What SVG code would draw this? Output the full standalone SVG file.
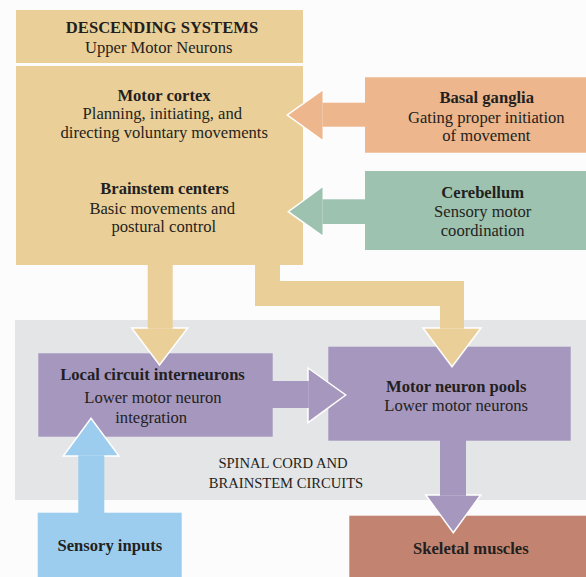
<svg xmlns="http://www.w3.org/2000/svg" width="586" height="577" viewBox="0 0 586 577">
<style>
text{font-family:"Liberation Serif","Times New Roman",serif;fill:#231f20;font-size:16.6px;text-anchor:middle}
.b{font-weight:bold}
.s{font-size:14.6px}
.tan{fill:#ebcf99}
.pur{fill:#a697bf}
.head{stroke:#ffffff;stroke-width:1.5;stroke-linejoin:miter}
</style>
<rect width="586" height="577" fill="#fcfcfc"/>
<rect id="band" x="15" y="320" width="571" height="180" fill="#e4e5e7"/>
<text class="s" x="283" y="468">SPINAL CORD AND</text>
<text class="s" x="286" y="487.5">BRAINSTEM CIRCUITS</text>

<g id="descending">
<rect class="tan" x="16" y="10" width="287" height="53"/>
<text class="b" x="162" y="33.3">DESCENDING SYSTEMS</text>
<text x="158.7" y="52.7">Upper Motor Neurons</text>
</g>
<g id="upper">
<rect class="tan" x="16" y="66" width="287" height="199"/>
<text class="b" x="164" y="100.7">Motor cortex</text>
<text x="162.3" y="119.3">Planning, initiating, and</text>
<text x="164.2" y="137.7">directing voluntary movements</text>
<text class="b" x="164.5" y="194.3">Brainstem centers</text>
<text x="162.2" y="214.3">Basic movements and</text>
<text x="163.8" y="232.3">postural control</text>
</g>
<g id="basal">
<rect x="365" y="77.3" width="221" height="75.4" fill="#edb68d"/>
<text class="b" x="486.7" y="103.3">Basal ganglia</text>
<text x="486.3" y="122.7">Gating proper initiation</text>
<text x="486.3" y="140.7">of movement</text>
</g>
<g id="cerebellum">
<rect x="365" y="171" width="221" height="79" fill="#9dc3b0"/>
<text class="b" x="482.7" y="197.7">Cerebellum</text>
<text x="482.7" y="216.7">Sensory motor</text>
<text x="482.7" y="235.7">coordination</text>
</g>
<g id="local">
<rect class="pur" x="38.3" y="353.3" width="234.4" height="83.4"/>
<text class="b" x="152.5" y="380">Local circuit interneurons</text>
<text x="153" y="403.3">Lower motor neuron</text>
<text x="151.2" y="422.5">integration</text>
</g>
<g id="pools">
<rect class="pur" x="328.3" y="346.7" width="242.4" height="94"/>
<text class="b" x="456.2" y="391.7">Motor neuron pools</text>
<text x="456.2" y="411">Lower motor neurons</text>
</g>
<g id="sensory">
<rect x="37.7" y="512.7" width="144" height="64.3" fill="#9ccdee"/>
<text class="b" x="109.8" y="550.7">Sensory inputs</text>
</g>
<g id="skeletal">
<rect x="349.3" y="515.7" width="236.7" height="61.3" fill="#c28470"/>
<text class="b" x="470.8" y="554">Skeletal muscles</text>
</g>

<g id="connectors">
<!-- basal ganglia -> motor cortex -->
<polygon class="head" points="323.3,89.3 287.3,115 323.3,141" fill="#edb68d"/>
<rect x="322.5" y="102.7" width="42.5" height="24" fill="#edb68d"/>
<!-- cerebellum -> brainstem -->
<polygon class="head" points="323.3,186 288.3,211.7 323.3,236.7" fill="#9dc3b0"/>
<rect x="322.5" y="199.3" width="42.5" height="24.7" fill="#9dc3b0"/>
<!-- upper -> local -->
<polygon class="head tan" points="131.7,328 187.7,328 159.5,365"/>
<rect class="tan" x="147.7" y="265" width="25" height="63.8"/>
<!-- upper -> pools -->
<polygon class="head tan" points="423,328 481,328 452,366.7"/>
<path class="tan" d="M255,265 H280 V281 H464 V328.8 H440 V306 H255 Z"/>
<!-- local -> pools -->
<polygon class="head pur" points="308,368 345.7,395 308,422.7"/>
<rect class="pur" x="272" y="381" width="36.8" height="27"/>
<!-- pools -> skeletal -->
<polygon class="head pur" points="425.7,495 480.7,495 453.3,532.7"/>
<rect class="pur" x="440" y="440" width="26" height="55.8"/>
<!-- sensory -> local -->
<polygon class="head" points="63.3,456 119,456 91,418.3" fill="#9ccdee"/>
<rect x="78.3" y="455.2" width="26" height="57.8" fill="#9ccdee"/>
</g>
</svg>
